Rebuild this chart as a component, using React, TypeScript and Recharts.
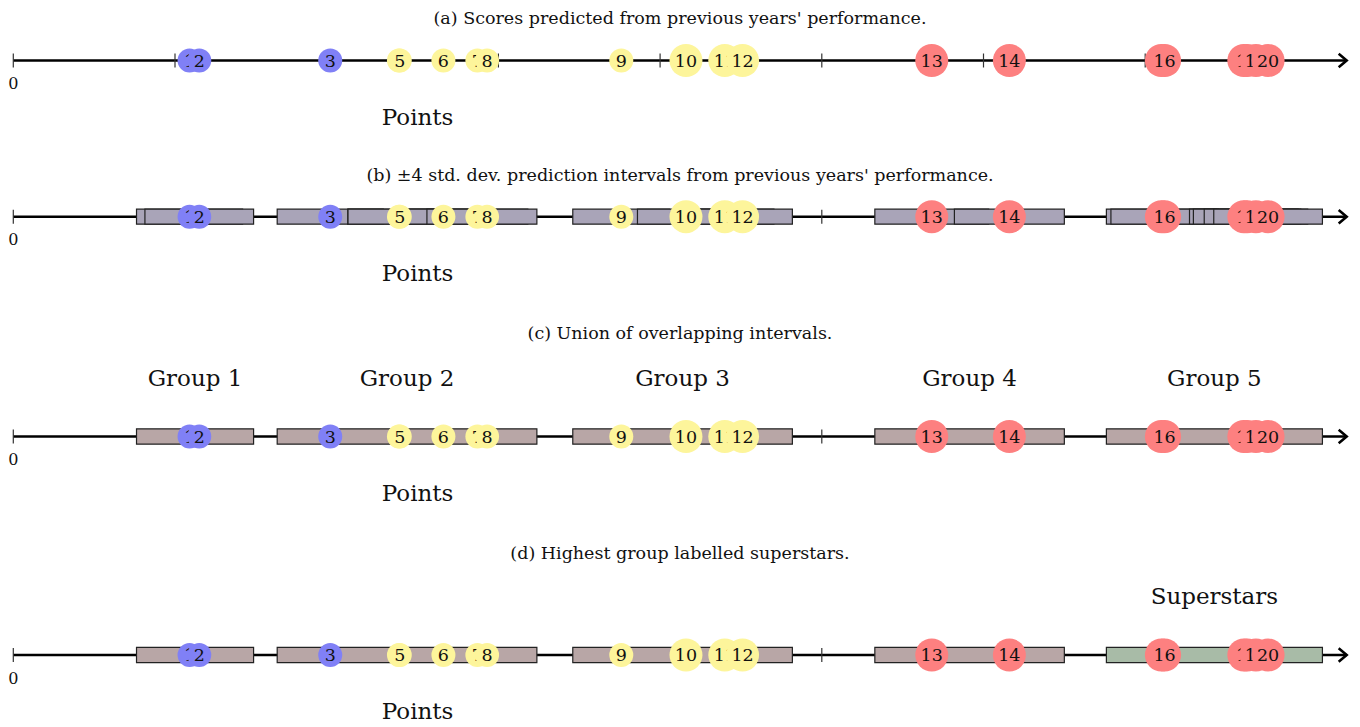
import React from "react";
import { ScatterChart, Scatter, XAxis, YAxis, ReferenceArea, ReferenceLine } from "recharts";

// players in the order they are drawn (later ones sit on top)
const PLAYERS = ["1", "2", "3", "4", "5", "6", "7", "8", "9", "10", "11", "12", "13", "14", "15", "16", "17", "18", "19", "20"];
// predicted score from previous years' performance
const PREDICTED = [10.9, 11.5, 19.6, 23.85, 23.9, 26.6, 28.7, 29.3, 37.6, 41.6, 44.0, 45.1, 56.8, 61.6, 71.0, 71.2, 76.1, 76.3, 76.85, 77.6];
// standard deviation of the prediction
const STD_DEV = [0.82, 0.84, 0.82, 0.79, 0.8, 0.79, 0.78, 0.77, 0.75, 0.75, 0.76, 0.77, 0.88, 0.85, 0.85, 0.83, 0.84, 0.83, 0.8, 0.84];
// tier the player was in before
const PREV_TIER = ["low", "low", "low", "mid", "mid", "mid", "mid", "mid", "mid", "mid", "mid", "mid", "high", "high", "high", "high", "high", "high", "high", "high"];

const TICKS = [0, 10, 20, 30, 40, 50, 60, 70];
const AXIS_END = 82.46;
const N_SD = 4;

const TITLES = [
  "(a) Scores predicted from previous years' performance.",
  "(b) \u00b14 std. dev. prediction intervals from previous years' performance.",
  "(c) Union of overlapping intervals.",
  "(d) Highest group labelled superstars.",
];
const GROUP_NAMES = ["Group 1", "Group 2", "Group 3", "Group 4", "Group 5"];
const TOP_LABEL = "Superstars";
const AXIS_LABEL = "Points";

const W = 1360;
const H = 727;
const X_DOMAIN: [number, number] = [-0.8225, 83.284];
const X_MID = (X_DOMAIN[0] + X_DOMAIN[1]) / 2;
const FONT = "'DejaVu Serif', serif";

const TIER_COLORS: Record<string, string> = {
  low: "#8080f6",
  mid: "#fdf59b",
  high: "#fd8080",
};

type Mode = "points" | "intervals" | "union" | "superstars";
const PANELS: { mode: Mode; titleY: number; axisY: number; pointsY: number; groupY?: number }[] = [
  { mode: "points", titleY: 18, axisY: 60.5, pointsY: 117 },
  { mode: "intervals", titleY: 175, axisY: 216.7, pointsY: 273 },
  { mode: "union", titleY: 333, axisY: 436.5, pointsY: 493, groupY: 378 },
  { mode: "superstars", titleY: 553, axisY: 655, pointsY: 711, groupY: 596 },
];

const intervals = PREDICTED.map((p, i) => ({ lo: p - N_SD * STD_DEV[i], hi: p + N_SD * STD_DEV[i] }));

function unionOf(iv: { lo: number; hi: number }[]) {
  const sorted = [...iv].sort((a, b) => a.lo - b.lo);
  const out: { lo: number; hi: number }[] = [];
  for (const r of sorted) {
    const last = out[out.length - 1];
    if (last && r.lo <= last.hi) last.hi = Math.max(last.hi, r.hi);
    else out.push({ ...r });
  }
  return out;
}
const groups = unionOf(intervals);

const PlayerDot = (props: any) => {
  const { cx, cy, payload } = props;
  const r = payload.name.length > 1 ? 16.5 : 12;
  return (
    <g>
      <circle cx={cx} cy={cy} r={r} fill={TIER_COLORS[payload.tier]} />
      <text x={cx} y={cy} textAnchor="middle" dominantBaseline="central" fontFamily={FONT} fontSize={17.5} fill="#111">
        {payload.name}
      </text>
    </g>
  );
};

const Arrow = (props: any) => {
  const { cx, cy } = props;
  return (
    <polyline
      points={`${cx - 8},${cy - 6.7} ${cx},${cy} ${cx - 8},${cy + 6.7}`}
      fill="none"
      stroke="#000"
      strokeWidth={2.6}
    />
  );
};

const TextMark = (props: any) => {
  const { cx, cy, payload } = props;
  return (
    <text x={cx} y={cy} textAnchor="middle" dominantBaseline="central" fontFamily={FONT} fontSize={payload.size} fill="#111">
      {payload.text}
    </text>
  );
};

export default function App() {
  const labels: { x: number; y: number; text: string; size: number }[] = [];
  PANELS.forEach((p, k) => {
    labels.push({ x: X_MID, y: p.titleY, text: TITLES[k], size: 17.5 });
    labels.push({ x: 0, y: p.axisY + 23, text: "0", size: 16 });
    labels.push({ x: 25, y: p.pointsY, text: AXIS_LABEL, size: 23 });
    if (p.mode === "union") {
      groups.forEach((g, j) => labels.push({ x: (g.lo + g.hi) / 2, y: p.groupY!, text: GROUP_NAMES[j], size: 23 }));
    }
    if (p.mode === "superstars") {
      const g = groups[groups.length - 1];
      labels.push({ x: (g.lo + g.hi) / 2, y: p.groupY!, text: TOP_LABEL, size: 23 });
    }
  });

  return (
    <div style={{ position: "absolute", left: 0, top: 0, width: W, height: H, background: "#fff" }}>
      <ScatterChart width={W} height={H} margin={{ top: 0, right: 0, bottom: 0, left: 0 }}>
        <XAxis type="number" dataKey="x" domain={X_DOMAIN} allowDataOverflow hide />
        <YAxis type="number" dataKey="y" domain={[0, H]} reversed allowDataOverflow hide />

        {PANELS.map((p, k) => (
          <ReferenceLine
            key={`axis-${k}`}
            segment={[{ x: 0, y: p.axisY }, { x: AXIS_END, y: p.axisY }]}
            stroke="#000"
            strokeWidth={2.6}
            zIndex={10}
          />
        ))}
        {PANELS.map((p, k) =>
          TICKS.map((t) => (
            <ReferenceLine
              key={`tick-${k}-${t}`}
              segment={[{ x: t, y: p.axisY - 7 }, { x: t, y: p.axisY + 7 }]}
              stroke="#333"
              strokeWidth={1.2}
              zIndex={20}
            />
          ))
        )}

        {PANELS.map((p, k) => {
          if (p.mode === "intervals") {
            return intervals.map((iv, i) => (
              <ReferenceArea
                key={`iv-${k}-${i}`}
                x1={iv.lo}
                x2={iv.hi}
                y1={p.axisY - 7.5}
                y2={p.axisY + 7.5}
                fill="#a9a4b8"
                fillOpacity={1}
                stroke="#222"
                strokeWidth={1.2}
                zIndex={30}
              />
            ));
          }
          if (p.mode === "union" || p.mode === "superstars") {
            return groups.map((g, j) => (
              <ReferenceArea
                key={`grp-${k}-${j}`}
                x1={g.lo}
                x2={g.hi}
                y1={p.axisY - 7.7}
                y2={p.axisY + 7.7}
                fill={p.mode === "superstars" && j === groups.length - 1 ? "#a8bba7" : "#b8a6a6"}
                fillOpacity={1}
                stroke="#222"
                strokeWidth={1.2}
                zIndex={30}
              />
            ));
          }
          return null;
        })}

        <Scatter
          data={PANELS.map((p) => ({ x: AXIS_END, y: p.axisY }))}
          shape={Arrow}
          isAnimationActive={false}
        />
        {PANELS.map((p, k) => (
          <Scatter
            key={`pts-${k}`}
            data={PLAYERS.map((name, i) => ({ x: PREDICTED[i], y: p.axisY, name, tier: PREV_TIER[i] }))}
            shape={PlayerDot}
            isAnimationActive={false}
          />
        ))}
        <Scatter data={labels} shape={TextMark} isAnimationActive={false} />
      </ScatterChart>
    </div>
  );
}
